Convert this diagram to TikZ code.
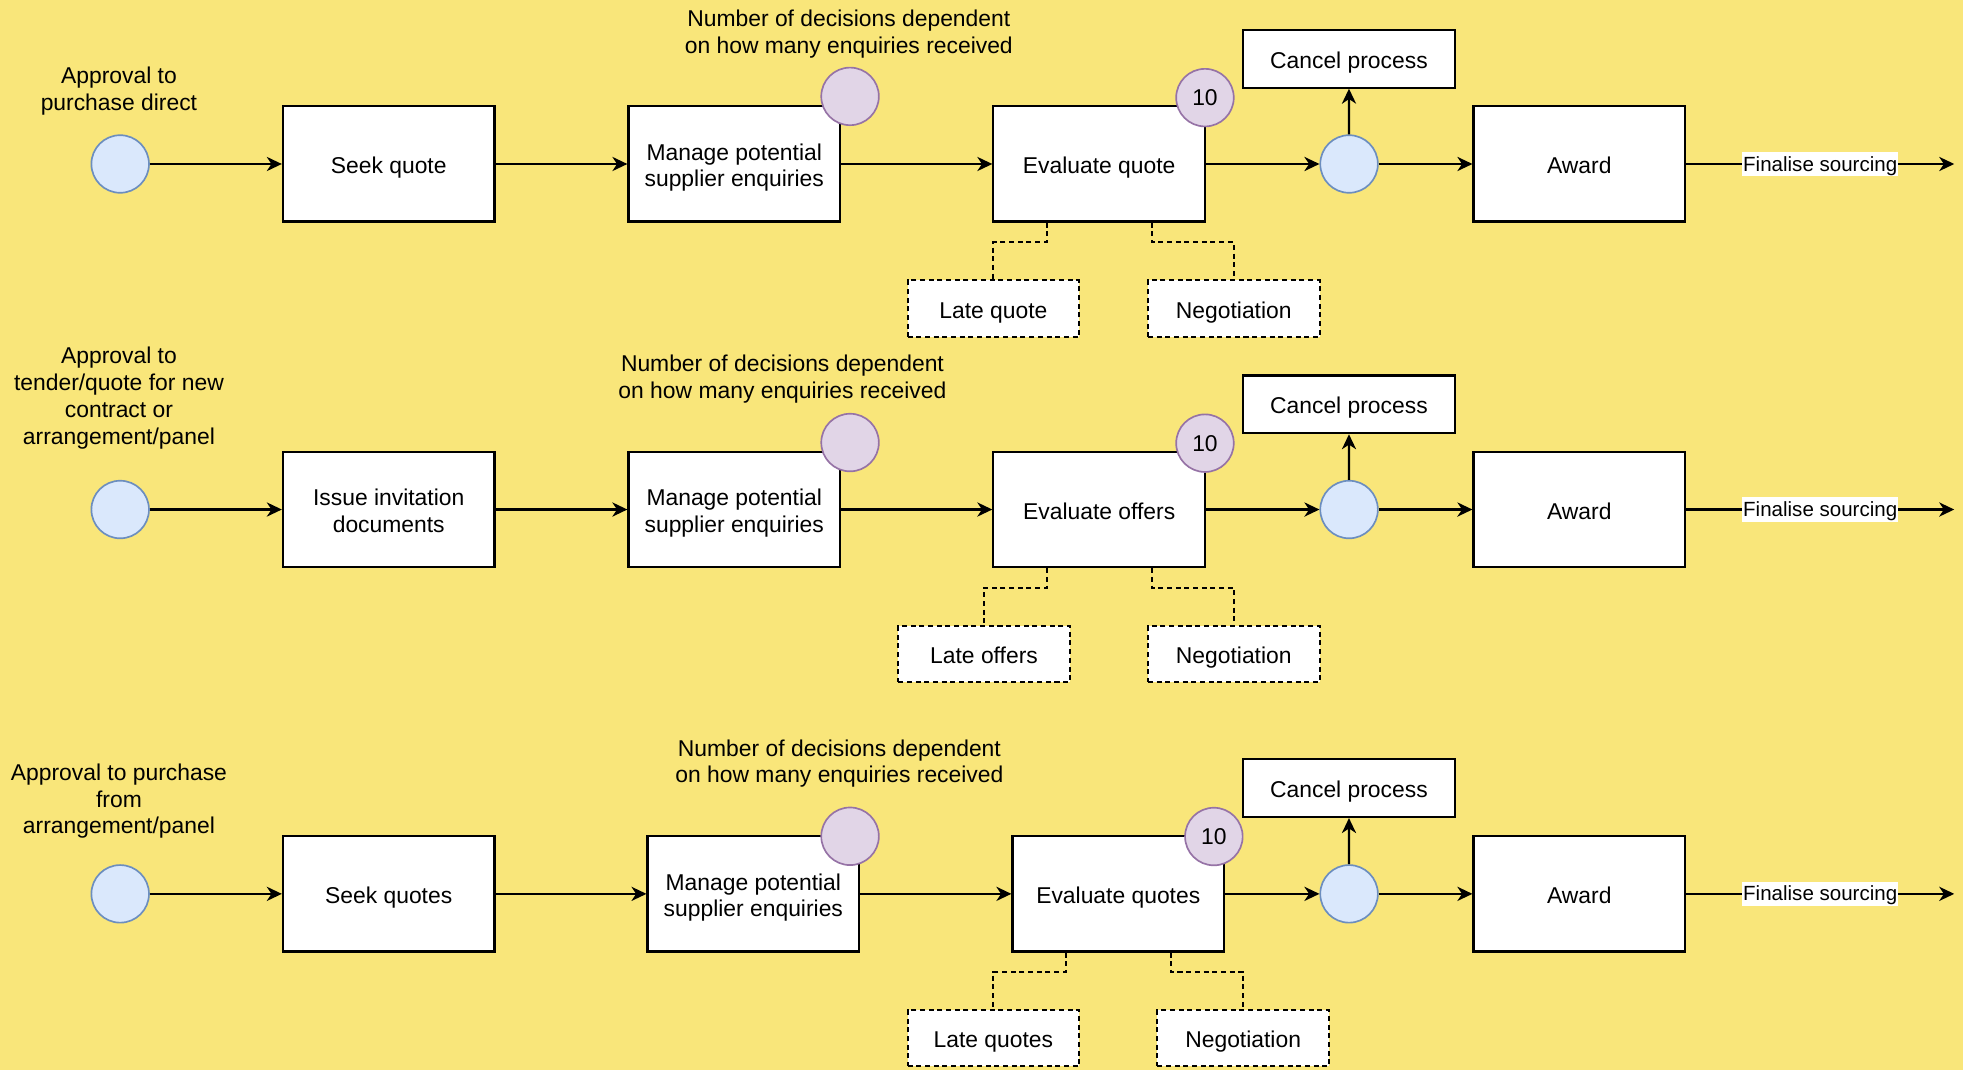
\documentclass[tikz,border=0pt]{standalone}
\usepackage{fontspec}
\setmainfont{Liberation Sans}
\usetikzlibrary{arrows.meta}
\definecolor{bgyellow}{RGB}{249,230,122}
\definecolor{bluefill}{HTML}{DAE8FC}
\definecolor{bluedraw}{HTML}{6C8EBF}
\definecolor{purfill}{HTML}{E1D5E7}
\definecolor{purdraw}{HTML}{9673A6}
\newcommand{\tl}{\rule{0pt}{15.5pt}}
\newcommand{\bl}{\rule[-4pt]{0pt}{0pt}}
\begin{document}
\begin{tikzpicture}[x=0.75pt,y=-0.75pt,
  every node/.style={font=\fontsize{13.7}{16}\selectfont},
  box/.style={draw, fill=white, line width=1.3pt, minimum width=126.75pt, minimum height=69pt, align=center, inner sep=0pt},
  cancelbox/.style={box, minimum height=34.5pt},
  dashbox/.style={draw, fill=white, line width=1.2pt, dash pattern=on 3pt off 2.2pt, minimum width=102.75pt, minimum height=33.75pt, inner sep=0pt},
  bluecirc/.style={circle, draw=bluedraw, fill=bluefill, line width=1pt, minimum size=34.5pt, inner sep=0pt},
  purcirc/.style={bluecirc, draw=purdraw, fill=purfill},
  lbl/.style={align=center, inner sep=0pt},
  flow/.style={-{Stealth[length=9pt,width=8.5pt,inset=2.8pt]}, line width=1.3pt},
  dlink/.style={line width=1.2pt, dash pattern=on 3pt off 2.2pt},
  fin/.style={fill=white, inner sep=0.6pt, font=\fontsize{12.3}{14}\selectfont, execute at begin node=\rule{0pt}{11pt}}
]
\fill[bgyellow] (0,0) rectangle (1568,855);
\useasboundingbox (0,0) rectangle (1568,855);

% ---------- Row 1 ----------
\node[lbl] (a1) at (95,73) {Approval to\\purchase direct};
\node[bluecirc] (s1) at (96,131) {};
\node[box] (b1) at (310.5,131) {\tl Seek quote\bl};
\node[box] (m1) at (586.5,131) {\tl Manage potential\\supplier enquiries\bl};
\node[lbl] (n1) at (678,27) {Number of decisions dependent\\on how many enquiries received};
\node[box] (e1) at (878,131) {\tl Evaluate quote\bl};
\node[bluecirc] (d1) at (1077.6,131) {};
\node[cancelbox] (c1) at (1077.5,47) {\tl Cancel process\bl};
\node[box] (w1) at (1261.5,131) {\tl Award\bl};
\coordinate (f1) at (1561,131);
\node[dashbox] (l1) at (793.5,246.5) {\tl Late quote\bl};
\node[dashbox] (g1) at (985.5,246.5) {\tl Negotiation\bl};
\node[purcirc] (p1) at (679,77) {};
\node[purcirc] (t1) at (962.5,78) {10};
\draw[flow] (s1) -- (b1);
\draw[flow] (b1) -- (m1);
\draw[flow] (m1) -- (e1);
\draw[flow] (e1) -- (d1);
\draw[flow] (d1) -- (w1);
\draw[flow] (d1) -- (c1);
\draw[flow] (w1) -- node[fin] {Finalise sourcing} (f1);
\draw[dlink] ([xshift=-31.5pt]e1.south) -- ++(0,15.5) -| (l1.north);
\draw[dlink] ([xshift=31.5pt]e1.south) -- ++(0,15.5) -| (g1.north);

% ---------- Row 2 ----------
\node[lbl] (a2) at (95,318) {Approval to\\tender/quote for new\\contract or\\arrangement/panel};
\node[bluecirc] (s2) at (96,407) {};
\node[box] (b2) at (310.5,407) {\tl Issue invitation\\documents\bl};
\node[box] (m2) at (586.5,407) {\tl Manage potential\\supplier enquiries\bl};
\node[lbl] (n2) at (625,303) {Number of decisions dependent\\on how many enquiries received};
\node[box] (e2) at (878,407) {\tl Evaluate offers\bl};
\node[bluecirc] (d2) at (1077.6,407) {};
\node[cancelbox] (c2) at (1077.5,323) {\tl Cancel process\bl};
\node[box] (w2) at (1261.5,407) {\tl Award\bl};
\coordinate (f2) at (1561,407);
\node[dashbox] (l2) at (786,522.5) {\tl Late offers\bl};
\node[dashbox] (g2) at (985.5,522.5) {\tl Negotiation\bl};
\node[purcirc] (p2) at (679,353.5) {};
\node[purcirc] (t2) at (962.5,354) {10};
\draw[flow] (s2) -- (b2);
\draw[flow] (b2) -- (m2);
\draw[flow] (m2) -- (e2);
\draw[flow] (e2) -- (d2);
\draw[flow] (d2) -- (w2);
\draw[flow] (d2) -- (c2);
\draw[flow] (w2) -- node[fin] {Finalise sourcing} (f2);
\draw[dlink] ([xshift=-31.5pt]e2.south) -- ++(0,15.5) -| (l2.north);
\draw[dlink] ([xshift=31.5pt]e2.south) -- ++(0,15.5) -| (g2.north);

% ---------- Row 3 ----------
\node[lbl] (a3) at (95,640) {Approval to purchase\\from\\arrangement/panel};
\node[bluecirc] (s3) at (96,714) {};
\node[box] (b3) at (310.5,714) {\tl Seek quotes\bl};
\node[box] (m3) at (601.75,714) {\tl Manage potential\\supplier enquiries\bl};
\node[lbl] (n3) at (670.5,610) {Number of decisions dependent\\on how many enquiries received};
\node[box] (e3) at (893.25,714) {\tl Evaluate quotes\bl};
\node[bluecirc] (d3) at (1077.6,714) {};
\node[cancelbox] (c3) at (1077.5,629.6) {\tl Cancel process\bl};
\node[box] (w3) at (1261.5,714) {\tl Award\bl};
\coordinate (f3) at (1561,714);
\node[dashbox] (l3) at (793.5,829.3) {\tl Late quotes\bl};
\node[dashbox] (g3) at (993,829.3) {\tl Negotiation\bl};
\node[purcirc] (p3) at (679,668) {};
\node[purcirc] (t3) at (969.6,668.2) {10};
\draw[flow] (s3) -- (b3);
\draw[flow] (b3) -- (m3);
\draw[flow] (m3) -- (e3);
\draw[flow] (e3) -- (d3);
\draw[flow] (d3) -- (w3);
\draw[flow] (d3) -- (c3);
\draw[flow] (w3) -- node[fin] {Finalise sourcing} (f3);
\draw[dlink] ([xshift=-31.5pt]e3.south) -- ++(0,15.5) -| (l3.north);
\draw[dlink] ([xshift=31.5pt]e3.south) -- ++(0,15.5) -| (g3.north);
\end{tikzpicture}
\end{document}
